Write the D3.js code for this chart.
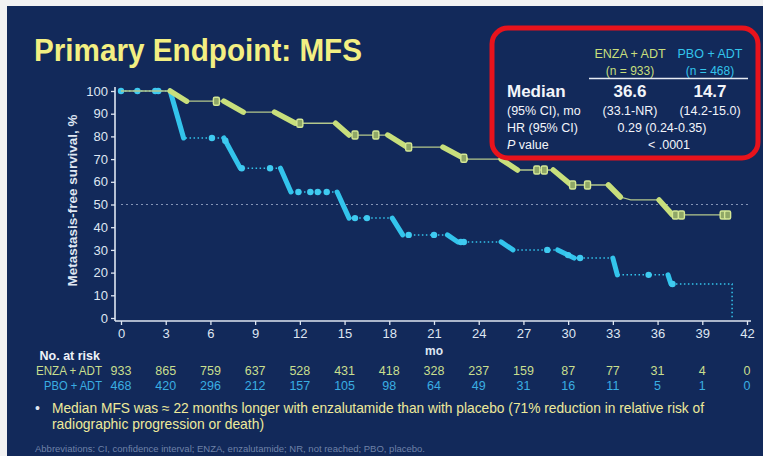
<!DOCTYPE html>
<html>
<head>
<meta charset="utf-8">
<script src="https://cdn.jsdelivr.net/npm/d3@7"></script>
<style>
  html, body { margin: 0; padding: 0; background: #f2f2f2; }
  svg { display: block; font-family: "Liberation Sans", Arial, sans-serif; }
</style>
</head>
<body>
<div id="chart"></div>
<script>
// KM curves, [month, % metastasis-free]
const enzaCurve = [[0,100],[3.3,100],[4.4,95.5],[6.9,95.5],[8.2,90.7],[10.3,90.7],[11.7,85.8],[14.4,85.8],
  [15.3,80.6],[17.9,80.6],[19.2,75.3],[21.6,75.3],[23.1,70],[25.5,70],[26.6,65.2],[29.0,65.2],[30.2,58.6],
  [32.7,58.6],[33.5,53.3],[34.2,52],[36.1,52],[37.0,45.4],[40.7,45.4]];
const pboCurve = [[0,100],[3.3,100],[4.2,79.3],[6.9,79.3],[8.0,66],[10.7,66],[11.4,55.5],[14.5,55.5],
  [15.3,44],[18.2,44],[18.9,36.6],[21.9,36.6],[22.6,33.5],[25.5,33.5],[26.3,30],[29.3,30],[30.4,26.4],
  [33.0,26.4],[33.3,19],[36.7,19],[36.9,15],[41.0,15],[41.0,0]];

// censor marks (months)
const enzaCensor = [6.4, 12.0, 15.7, 17.1, 19.3, 23.0, 27.9, 28.4, 30.3, 31.3, 37.2, 37.6, 40.4, 40.7];
const pboCensor = [0, 1.1, 2.3, 2.5, 6.1, 7.0, 8.1, 10.0, 11.9, 12.7, 13.2, 13.8, 15.7, 16.5, 19.3, 21.0,
  22.8, 23.0, 28.6, 30.0, 30.8, 35.4, 37.0];

const xTicks = d3.range(0, 43, 3);
const yTicks = d3.range(0, 101, 10);
const enzaRisk = [933, 865, 759, 637, 528, 431, 418, 328, 237, 159, 87, 77, 31, 4, 0];
const pboRisk = [468, 420, 296, 212, 157, 105, 98, 64, 49, 31, 16, 11, 5, 1, 0];

const W = 763, H = 456;
const bg = '#12295a', enzaCol = '#c8df7c', pboCol = '#33c4ec', axisCol = '#dfe6f2';

const svg = d3.select('#chart').append('svg').attr('width', W).attr('height', H);
svg.append('rect').attr('x', 7).attr('y', 6).attr('width', W - 7).attr('height', H - 6).attr('fill', bg);

// title
svg.append('text').attr('x', 34).attr('y', 61)
  .attr('font-size', 32).attr('font-weight', 'bold').attr('fill', '#f3ef82')
  .attr('textLength', 328).attr('lengthAdjust', 'spacingAndGlyphs')
  .text('Primary Endpoint: MFS');

const x = d3.scaleLinear().domain([0, 42]).range([121, 747]);
const y = d3.scaleLinear().domain([0, 100]).range([318, 91]);

// axes
const gy = svg.append('g').attr('transform', 'translate(115,0)')
  .call(d3.axisLeft(y).tickValues(yTicks).tickSize(4).tickSizeOuter(0));
const gx = svg.append('g').attr('transform', 'translate(0,321)')
  .call(d3.axisBottom(x).tickValues(xTicks).tickSize(4).tickSizeOuter(0));
[gx, gy].forEach(g => {
  g.select('.domain').remove();
  g.selectAll('line').attr('stroke', axisCol).attr('stroke-width', 1.3);
  g.selectAll('text').attr('fill', axisCol).attr('font-size', 13).attr('font-family', null);
});
gy.selectAll('text').attr('x', -7);
gx.selectAll('text').attr('y', 8);
svg.append('line').attr('x1', 115).attr('x2', 115).attr('y1', 87).attr('y2', 321)
  .attr('stroke', axisCol).attr('stroke-width', 1.6);
svg.append('line').attr('x1', 115).attr('x2', 751).attr('y1', 321).attr('y2', 321)
  .attr('stroke', axisCol).attr('stroke-width', 1.6);

svg.append('text').attr('transform', `translate(77,${y(50) - 4}) rotate(-90)`)
  .attr('text-anchor', 'middle').attr('font-size', 13).attr('font-weight', 'bold')
  .attr('fill', '#dfe6f2').attr('textLength', 172).attr('lengthAdjust', 'spacingAndGlyphs')
  .text('Metastasis-free survival, %');

svg.append('text').attr('x', x(21)).attr('y', 355).attr('text-anchor', 'middle')
  .attr('font-size', 12).attr('font-weight', 'bold').attr('fill', axisCol).text('mo');

// 50% reference
svg.append('line').attr('x1', x(0)).attr('x2', 751).attr('y1', y(50)).attr('y2', y(50))
  .attr('stroke', '#8494b6').attr('stroke-width', 1).attr('stroke-dasharray', '2,3');

// survival at t along the drawn curve
function survAt(curve, t) {
  for (let i = 1; i < curve.length; i++) {
    const [t0, s0] = curve[i - 1], [t1, s1] = curve[i];
    if (t <= t1) return t1 === t0 ? s0 : s0 + (s1 - s0) * (t - t0) / (t1 - t0);
  }
  return curve[curve.length - 1][1];
}

const line = d3.line().x(d => x(d[0])).y(d => y(d[1]));
function drops(curve) {
  const out = [];
  for (let i = 1; i < curve.length; i++) {
    const a = curve[i - 1], b = curve[i];
    if (b[0] > a[0] && a[1] - b[1] > 2) out.push([a, b]);
  }
  return out;
}

// PBO + ADT
svg.append('path').attr('d', line(pboCurve)).attr('fill', 'none')
  .attr('stroke', pboCol).attr('stroke-width', 1.5).attr('stroke-dasharray', '1.5,2.5');
svg.selectAll('.pdrop').data(drops(pboCurve)).join('path').attr('class', 'pdrop')
  .attr('d', line).attr('fill', 'none').attr('stroke', pboCol)
  .attr('stroke-width', 5).attr('stroke-linecap', 'round');
svg.selectAll('.pc').data(pboCensor).join('circle').attr('class', 'pc')
  .attr('cx', d => x(d)).attr('cy', d => y(survAt(pboCurve, d))).attr('r', 3.2)
  .attr('fill', '#3fcaf0');

// ENZA + ADT
svg.append('path').attr('d', line(enzaCurve)).attr('fill', 'none')
  .attr('stroke', '#b4c88c').attr('stroke-width', 1.3);
svg.selectAll('.edrop').data(drops(enzaCurve)).join('path').attr('class', 'edrop')
  .attr('d', line).attr('fill', 'none').attr('stroke', enzaCol)
  .attr('stroke-width', 5.5).attr('stroke-linecap', 'round');
svg.selectAll('.ec').data(enzaCensor).join('rect').attr('class', 'ec')
  .attr('x', d => x(d) - 3).attr('y', d => y(survAt(enzaCurve, d)) - 4)
  .attr('width', 6).attr('height', 8).attr('rx', 1.5)
  .attr('fill', '#8fa767').attr('stroke', '#d4e794').attr('stroke-width', 1.4);

// number at risk
svg.append('text').attr('x', 100).attr('y', 360).attr('text-anchor', 'end')
  .attr('font-size', 12.5).attr('font-weight', 'bold').attr('fill', '#eef2f8').text('No. at risk');
[['ENZA + ADT', enzaRisk, '#c9df8e', 375], ['PBO + ADT', pboRisk, '#3aaee2', 390]].forEach(([lab, vals, col, yy]) => {
  svg.append('text').attr('x', 102).attr('y', yy).attr('text-anchor', 'end')
    .attr('font-size', 12.5).attr('fill', col).attr('textLength', lab.length > 9 ? 66 : 58)
    .attr('lengthAdjust', 'spacingAndGlyphs').text(lab);
  svg.selectAll(null).data(vals).join('text')
    .attr('x', (d, i) => x(xTicks[i])).attr('y', yy).attr('text-anchor', 'middle')
    .attr('font-size', 12.5).attr('fill', col).text(d => d);
});

// red summary box
const box = svg.append('g');
box.append('rect').attr('x', 492).attr('y', 28).attr('width', 266).attr('height', 130)
  .attr('rx', 16).attr('fill', bg).attr('stroke', '#e8131c').attr('stroke-width', 5);
const cE = 630, cP = 710, cMid = 662, lx = 507;
box.append('text').attr('x', cE).attr('y', 58).attr('text-anchor', 'middle')
  .attr('font-size', 12.5).attr('fill', enzaCol).text('ENZA + ADT');
box.append('text').attr('x', cP).attr('y', 58).attr('text-anchor', 'middle')
  .attr('font-size', 12.5).attr('fill', pboCol).text('PBO + ADT');
box.append('text').attr('x', cE).attr('y', 75).attr('text-anchor', 'middle')
  .attr('font-size', 12).attr('fill', enzaCol).text('(n = 933)');
box.append('text').attr('x', cP).attr('y', 75).attr('text-anchor', 'middle')
  .attr('font-size', 12).attr('fill', pboCol).text('(n = 468)');
box.append('line').attr('x1', 589).attr('x2', 748).attr('y1', 78.5).attr('y2', 78.5)
  .attr('stroke', '#e6ebf3').attr('stroke-width', 1.3);

const wt = '#f2f5fa';
box.append('text').attr('x', lx).attr('y', 97).attr('font-size', 17).attr('font-weight', 'bold').attr('fill', wt).text('Median');
box.append('text').attr('x', cE).attr('y', 97).attr('text-anchor', 'middle').attr('font-size', 17).attr('font-weight', 'bold').attr('fill', wt).text('36.6');
box.append('text').attr('x', cP).attr('y', 97).attr('text-anchor', 'middle').attr('font-size', 17).attr('font-weight', 'bold').attr('fill', wt).text('14.7');
box.append('text').attr('x', lx).attr('y', 115).attr('font-size', 12.5).attr('fill', wt).text('(95% CI), mo');
box.append('text').attr('x', cE).attr('y', 115).attr('text-anchor', 'middle').attr('font-size', 12.5).attr('fill', wt).text('(33.1-NR)');
box.append('text').attr('x', cP).attr('y', 115).attr('text-anchor', 'middle').attr('font-size', 12.5).attr('fill', wt).text('(14.2-15.0)');
box.append('text').attr('x', lx).attr('y', 132).attr('font-size', 12.5).attr('fill', wt).text('HR (95% CI)');
box.append('text').attr('x', cMid).attr('y', 132).attr('text-anchor', 'middle').attr('font-size', 12.5).attr('fill', wt).text('0.29 (0.24-0.35)');
const pv = box.append('text').attr('x', lx).attr('y', 149).attr('font-size', 12.5).attr('fill', wt);
pv.append('tspan').attr('font-style', 'italic').text('P');
pv.append('tspan').text(' value');
box.append('text').attr('x', 669).attr('y', 149).attr('text-anchor', 'middle').attr('font-size', 12.5).attr('fill', wt).text('< .0001');

// footnotes
const ft = '#eeea9a';
svg.append('text').attr('x', 35).attr('y', 413).attr('font-size', 14).attr('fill', '#dfe6f2').text('•');
svg.append('text').attr('x', 52).attr('y', 413).attr('font-size', 14.5).attr('fill', ft)
  .attr('textLength', 652).attr('lengthAdjust', 'spacingAndGlyphs')
  .text('Median MFS was \u2248 22 months longer with enzalutamide than with placebo (71% reduction in relative risk of');
svg.append('text').attr('x', 52).attr('y', 429).attr('font-size', 14.5).attr('fill', ft)
  .attr('textLength', 212).attr('lengthAdjust', 'spacingAndGlyphs')
  .text('radiographic progression or death)');
svg.append('text').attr('x', 35).attr('y', 452).attr('font-size', 8.5).attr('fill', '#6f82a8')
  .attr('textLength', 390).attr('lengthAdjust', 'spacingAndGlyphs')
  .text('Abbreviations: CI, confidence interval; ENZA, enzalutamide; NR, not reached; PBO, placebo.');
</script>
</body>
</html>
